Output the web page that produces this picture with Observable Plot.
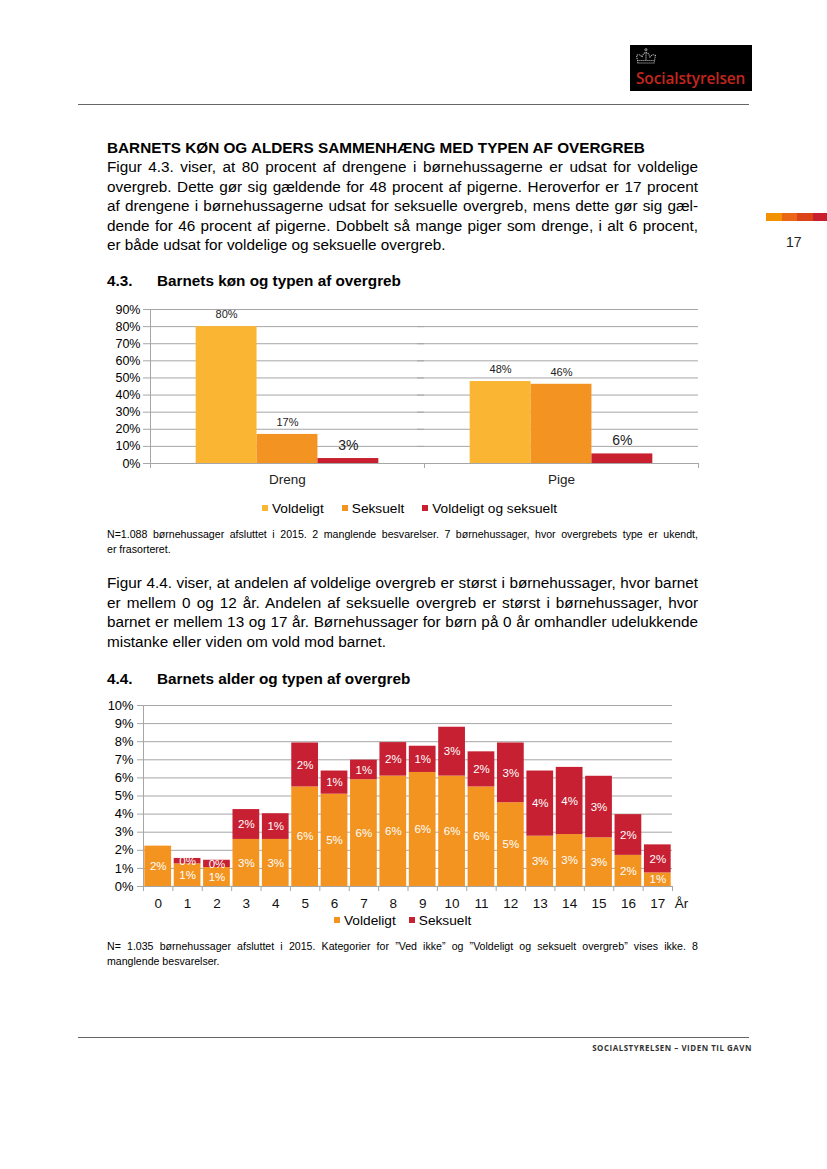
<!DOCTYPE html>
<html><head><meta charset="utf-8">
<script src="https://cdn.jsdelivr.net/npm/d3@7"></script>
<script src="https://cdn.jsdelivr.net/npm/@observablehq/plot@0.6"></script>
<style>
body{margin:0;background:#fff;font-family:"Liberation Sans",Arial,sans-serif;color:#000;}
#page{position:relative;width:827px;height:1169px;overflow:hidden;}
.abs{position:absolute;}
.para{position:absolute;left:107px;width:591px;font-size:15.3px;line-height:19.5px;}
.para div.j{text-align:justify;text-align-last:justify;}
.h{position:absolute;left:107px;font-weight:bold;font-size:15.3px;line-height:19.5px;white-space:nowrap;}
.cap{position:absolute;left:107px;width:591px;font-size:10.6px;}
.cap div.j{text-align:justify;text-align-last:justify;}
.legend{position:absolute;display:flex;align-items:center;font-size:13.7px;white-space:nowrap;}
.legend .sw{display:inline-block;width:6px;height:6px;margin-right:4px;}
.legend .it{display:flex;align-items:center;}
.chart{position:absolute;}
</style></head>
<body><div id="page">

<!-- header logo -->
<div class="abs" style="left:630px;top:45px;width:122px;height:46px;background:#000;">
  <svg class="abs" style="left:4px;top:2px" width="24" height="19" viewBox="0 0 24 19">
    <g fill="none" stroke="#b5b5b5" stroke-width="1.1" stroke-dasharray="1.2 0.8">
      <path d="M4 16 L2.5 8.5 Q5.5 6.5 8 10 Q9.5 5.5 12 5.5 Q14.5 5.5 16 10 Q18.5 6.5 21.5 8.5 L20 16 Z"/>
      <path d="M4.5 13.5 L19.5 13.5"/>
      <path d="M12 5.5 L12 13.5"/>
      <path d="M12 1 L12 5 M10.3 2.7 L13.7 2.7"/>
    </g>
  </svg>
  <div class="abs" style="left:6px;top:23px;font-family:'Open Sans',sans-serif;font-weight:600;font-size:15.4px;color:#c4261d;letter-spacing:-0.1px;white-space:nowrap;">Socialstyrelsen</div>
</div>
<div class="abs" style="left:78px;top:104px;width:671px;height:1px;background:#666;"></div>

<!-- right tab -->
<div class="abs" style="left:766px;top:213px;width:16px;height:8px;background:#F39200;"></div>
<div class="abs" style="left:782px;top:213px;width:15px;height:8px;background:#EC6617;"></div>
<div class="abs" style="left:797px;top:213px;width:16px;height:8px;background:#DB4418;"></div>
<div class="abs" style="left:813px;top:213px;width:14px;height:8px;background:#C8202F;"></div>
<div class="abs" style="left:786px;top:234px;font-size:14px;color:#222;">17</div>

<div class="h" style="top:138px;">BARNETS KØN OG ALDERS SAMMENHÆNG MED TYPEN AF OVERGREB</div>
<div class="para" style="top:157px;">
  <div class="j">Figur 4.3. viser, at 80 procent af drengene i børnehussagerne er udsat for voldelige</div>
  <div class="j">overgreb. Dette gør sig gældende for 48 procent af pigerne. Heroverfor er 17 procent</div>
  <div class="j">af drengene i børnehussagerne udsat for seksuelle overgreb, mens dette gør sig gæl-</div>
  <div class="j">dende for 46 procent af pigerne. Dobbelt så mange piger som drenge, i alt 6 procent,</div>
  <div>er både udsat for voldelige og seksuelle overgreb.</div>
</div>

<div class="h" style="top:271px;">4.3.</div>
<div class="h" style="top:271px;left:157px;">Barnets køn og typen af overgreb</div>

<div id="chart1" class="chart" style="left:100px;top:300px;"></div>
<div id="legend1" class="legend" style="left:262px;top:499px;height:18px;"></div>

<div class="cap" style="top:527px;line-height:15px;">
  <div class="j">N=1.088 børnehussager afsluttet i 2015. 2 manglende besvarelser. 7 børnehussager, hvor overgrebets type er ukendt,</div>
  <div>er frasorteret.</div>
</div>

<div class="para" style="top:573px;">
  <div class="j">Figur 4.4. viser, at andelen af voldelige overgreb er størst i børnehussager, hvor barnet</div>
  <div class="j">er mellem 0 og 12 år. Andelen af seksuelle overgreb er størst i børnehussager, hvor</div>
  <div class="j">barnet er mellem 13 og 17 år. Børnehussager for børn på 0 år omhandler udelukkende</div>
  <div>mistanke eller viden om vold mod barnet.</div>
</div>

<div class="h" style="top:669px;">4.4.</div>
<div class="h" style="top:669px;left:157px;">Barnets alder og typen af overgreb</div>

<div id="chart2" class="chart" style="left:100px;top:695px;"></div>
<div id="legend2" class="legend" style="left:334px;top:911px;height:18px;"></div>

<div class="cap" style="top:939px;line-height:15px;">
  <div class="j">N= 1.035 børnehussager afsluttet i 2015. Kategorier for ”Ved ikke” og ”Voldeligt og seksuelt overgreb” vises ikke. 8</div>
  <div>manglende besvarelser.</div>
</div>

<!-- footer -->
<div class="abs" style="left:78px;top:1037px;width:671px;height:1px;background:#666;"></div>
<div class="abs" style="right:75px;top:1043px;font-family:'Open Sans',sans-serif;font-weight:700;font-size:7.9px;letter-spacing:0.55px;color:#333;white-space:nowrap;">SOCIALSTYRELSEN – VIDEN TIL GAVN</div>

</div>
<script>
// ---------- Data: chart 4.3 ----------
const genders = ["Dreng", "Pige"];
const types1 = ["Voldeligt", "Seksuelt", "Voldeligt og seksuelt"];
const drengValues = [80, 17, 2.9];
const pigeValues = [47.9, 46.3, 5.6];
const yTicks1 = [0, 10, 20, 30, 40, 50, 60, 70, 80, 90];
const colors1 = ["#FAB632", "#F39322", "#C8202F"];

// ---------- Data: chart 4.4 ----------
const ages = ["0","1","2","3","4","5","6","7","8","9","10","11","12","13","14","15","16","17"];
const types2 = ["Voldeligt", "Seksuelt"];
const voldeligt = [2.23, 1.25, 1.05, 2.6, 2.6, 5.5, 5.1, 5.9, 6.1, 6.3, 6.1, 5.5, 4.63, 2.78, 2.87, 2.69, 1.72, 0.75];
const seksuelt  = [0, 0.3, 0.4, 1.65, 1.42, 2.43, 1.28, 1.08, 1.85, 1.45, 2.7, 1.94, 3.3, 3.6, 3.71, 3.4, 2.25, 1.55];
const yTicks2 = [0,1,2,3,4,5,6,7,8,9,10];
const colors2 = ["#F39421", "#C72032"];

const font = "'Liberation Sans', Arial, sans-serif";
const gridColor = "#a6a6a6";
const pct = v => Math.round(v) + "%";

// ---------- Chart 1 ----------
const rows1 = [];
genders.forEach((g, i) => types1.forEach((t, j) => rows1.push({g, t, v: (i === 0 ? drengValues : pigeValues)[j]})));
const W1 = 610, ML1 = 50, MR1 = 12, MT1 = 9, MB1 = 28, PH1 = 154;
const facetW = (W1 - ML1 - MR1) / genders.length;
const xPadOuter = 0.75;
const barStep = facetW / (types1.length + 2 * xPadOuter);
const edge = barStep / 2 + xPadOuter * barStep;
const below1 = -5 * 90 / PH1;

const chart1 = Plot.plot({
  width: W1, height: MT1 + PH1 + MB1,
  marginLeft: ML1, marginRight: MR1, marginTop: MT1, marginBottom: MB1,
  style: {fontFamily: font, fontSize: "12.5px", background: "transparent", color: "#000"},
  fx: {domain: genders, padding: 0, axis: null, label: null},
  x: {domain: types1, paddingInner: 0, paddingOuter: xPadOuter, axis: null, round: false},
  y: {domain: [0, 90], ticks: yTicks1, tickFormat: d => d + "%", tickSize: 0, tickPadding: 10, label: null},
  color: {domain: types1, range: colors1},
  marks: [
    Plot.ruleY(yTicks1, {stroke: gridColor, insetLeft: -7}),
    Plot.barY(rows1, {fx: "g", x: "t", y: "v", fill: "t"}),
    Plot.text(rows1.filter(d => d.t !== types1[2]), {fx: "g", x: "t", y: "v", text: d => pct(d.v), dy: -12, fontSize: 11, fill: "#222"}),
    Plot.text(rows1.filter(d => d.t === types1[2]), {fx: "g", x: "t", y: "v", text: d => pct(d.v), dy: -13, fontSize: 14, fill: "#222"}),
    Plot.text(genders, {fx: d => d, frameAnchor: "bottom", dy: 20, fontSize: 13.5, text: d => d, fill: "#222"}),
    Plot.ruleX(genders.map(g => ({g})), {fx: "g", x: () => types1[types1.length - 1], dx: edge, y1: 0, y2: below1, stroke: gridColor}),
    Plot.ruleX([{g: genders[0]}], {fx: "g", x: () => types1[0], dx: -edge, y1: below1, y2: 90, stroke: gridColor})
  ]
});
document.getElementById("chart1").appendChild(chart1);

// ---------- Chart 2 ----------
const rows2 = ages.flatMap((a, i) => [
  {a, t: types2[0], v: voldeligt[i], y1: 0, y2: voldeligt[i]},
  {a, t: types2[1], v: seksuelt[i], y1: voldeligt[i], y2: voldeligt[i] + seksuelt[i]}
]).filter(d => d.v > 0);
const W2 = 600, ML2 = 43, MR2 = 28, MT2 = 10, MB2 = 28, PH2 = 181;
const step2 = (W2 - ML2 - MR2) / ages.length;
const below2 = -5 * 10 / PH2;

const chart2 = Plot.plot({
  width: W2, height: MT2 + PH2 + MB2,
  marginLeft: ML2, marginRight: MR2, marginTop: MT2, marginBottom: MB2,
  style: {fontFamily: font, fontSize: "12.9px", background: "transparent", color: "#000"},
  x: {domain: ages, paddingInner: 0.09, paddingOuter: 0.045, axis: null, round: false},
  y: {domain: [0, 10], ticks: yTicks2, tickFormat: d => d + "%", tickSize: 0, tickPadding: 10, label: null},
  color: {domain: types2, range: colors2},
  marks: [
    Plot.ruleY(yTicks2, {stroke: gridColor, insetLeft: -6}),
    Plot.barY(rows2, {x: "a", y1: "y1", y2: "y2", fill: "t"}),
    Plot.text(rows2, {x: "a", y: d => (d.y1 + d.y2) / 2, text: d => pct(d.v), fill: "white", fontSize: 11.5}),
    Plot.text(ages, {x: d => d, frameAnchor: "bottom", dy: 21, fontSize: 13.5, fill: "#111"}),
    Plot.text(["År"], {frameAnchor: "bottom-right", textAnchor: "middle", dx: 9, dy: 21, fontSize: 13.5, fill: "#111"}),
    Plot.ruleX(ages, {x: d => d, dx: -step2 / 2, y1: 0, y2: below2, stroke: gridColor}),
    Plot.ruleX([ages[ages.length - 1]], {x: d => d, dx: step2 / 2, y1: 0, y2: below2, stroke: gridColor}),
    Plot.ruleX([ages[0]], {x: d => d, dx: -step2 / 2, y1: below2, y2: 10, stroke: gridColor})
  ]
});
document.getElementById("chart2").appendChild(chart2);

// ---------- Legends ----------
function legend(id, names, colors, gap) {
  const el = document.getElementById(id);
  names.forEach((n, i) => {
    const it = document.createElement("span");
    it.className = "it";
    if (i < names.length - 1) it.style.marginRight = gap + "px";
    const sw = document.createElement("span");
    sw.className = "sw";
    sw.style.background = colors[i];
    it.appendChild(sw);
    it.appendChild(document.createTextNode(n));
    el.appendChild(it);
  });
}
legend("legend1", types1, colors1, 18);
legend("legend2", types2, colors2, 13);
</script>
</body></html>
